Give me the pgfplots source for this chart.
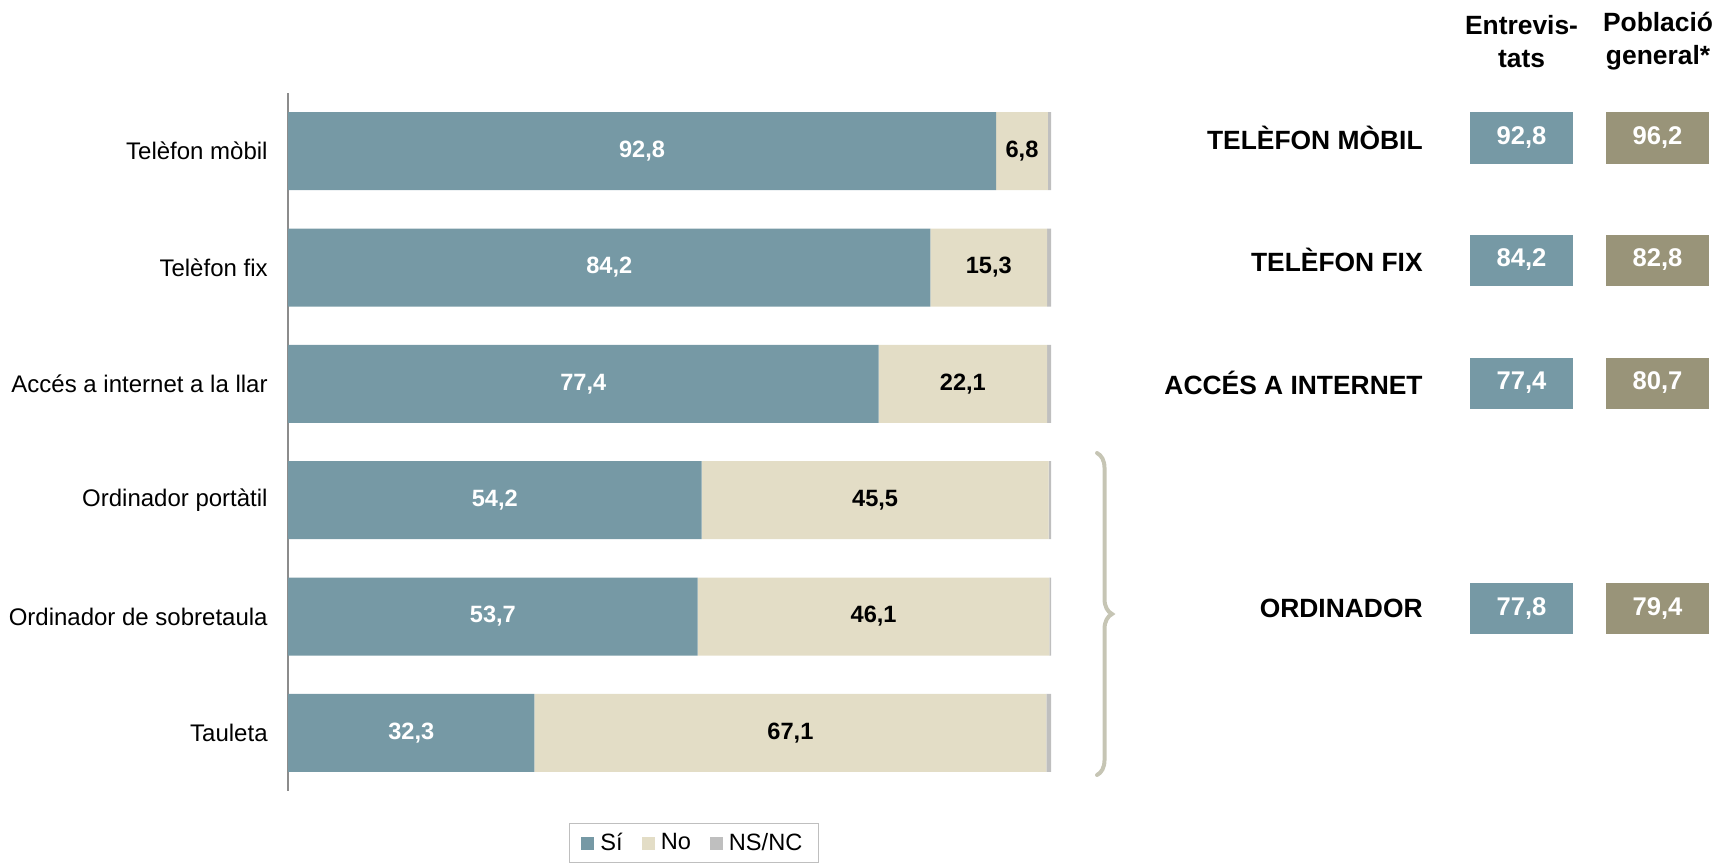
\documentclass[border=0pt]{standalone}
\usepackage{pgfplots}
\pgfplotsset{compat=1.18}
\usepackage{pgfplotstable}
\usepackage{fontspec}
\setmainfont{Liberation Sans}
\usetikzlibrary{decorations.pathreplacing}
\definecolor{cSi}{HTML}{7699A5}
\definecolor{cNo}{HTML}{E3DDC6}
\definecolor{cNS}{HTML}{BFBFBF}
\definecolor{cPob}{HTML}{999479}
\definecolor{cBrace}{HTML}{C6C5B4}
\definecolor{cAxis}{HTML}{8C8C8C}

\pgfplotstableread{
cat si no ns
0 92.8 6.8 0.4
1 84.2 15.3 0.5
2 77.4 22.1 0.5
3 54.2 45.5 0.3
4 53.7 46.1 0.2
5 32.3 67.1 0.6
}\bars

\pgfplotstableread{
y ent pob
138 92.8 96.2
260 84.2 82.8
383 77.4 80.7
608.5 77.8 79.4
}\comp

\newcommand{\fsA}{\fontsize{12}{14}\selectfont}
\newcommand{\fsL}{\fontsize{11.8}{14}\selectfont}
\newcommand{\fsB}{\bfseries\fontsize{13.2}{16.5}\selectfont}
\newcommand{\fsC}{\bfseries\fontsize{12.8}{15}\selectfont}

\pgfplotsset{
  /pgf/number format/assume math mode=true,
  numfmt/.style={nodes near coords={\pgfmathprintnumber[fixed,fixed zerofill,precision=1,use comma]{\pgfplotspointmeta}}},
  sq legend/.style={legend image code/.code={\fill[##1] (0pt,-3.25pt) rectangle (6.5pt,3.25pt); \path (7.5pt,0pt);}},
}

\begin{document}
\begin{tikzpicture}
\useasboundingbox (0,0) rectangle (858.5pt,431pt);

% main stacked bars
\begin{axis}[
  at={(144pt,35.5pt)}, anchor=south west, scale only axis,
  width=381.5pt, height=349pt,
  xbar stacked, bar width=39pt,
  xmin=0, xmax=100, ymin=-0.5, ymax=5.5, y dir=reverse,
  axis x line=none, axis y line*=left,
  axis line style={cAxis, line width=0.8pt, -},
  ytick={0,...,5},
  yticklabels={Telèfon mòbil, Telèfon fix, Accés a internet a la llar, Ordinador portàtil, Ordinador de sobretaula, Tauleta},
  major tick length=0pt,
  yticklabel style={font=\fsA, inner sep=0pt, xshift=-10pt},
  legend style={at={(0.532,-0.0745)}, anchor=center, legend columns=3,
    draw=cNS, line width=0.6pt, font=\fsL, inner xsep=6pt, inner ysep=2.5pt,
    /tikz/every even column/.append style={column sep=7.5pt}},
  legend cell align=left,
  clip=false,
]
\addplot[fill=cSi, draw=none, sq legend] table[x=si, y=cat]{\bars};
\addplot[fill=cNo, draw=none, sq legend] table[x=no, y=cat]{\bars};
\addplot[fill=cNS, draw=none, sq legend] table[x=ns, y=cat]{\bars};
\legend{Sí, No, NS/NC}
\end{axis}

% value labels inside bars
\begin{axis}[
  at={(144pt,35.5pt)}, anchor=south west, scale only axis,
  width=381.5pt, height=349pt,
  xmin=0, xmax=100, ymin=-0.5, ymax=5.5, y dir=reverse,
  hide axis, clip=false,
]
\addplot[draw=none, mark=none, numfmt, point meta=\thisrow{si},
  nodes near coords style={anchor=center, text=white, font=\fsL\bfseries}]
  table[x expr=\thisrow{si}/2, y=cat]{\bars};
\addplot[draw=none, mark=none, numfmt, point meta=\thisrow{no},
  nodes near coords style={anchor=center, text=black, font=\fsL\bfseries}]
  table[x expr=\thisrow{si}+\thisrow{no}/2, y=cat]{\bars};
\end{axis}

% right-hand comparison panel
\begin{axis}[
  at={(0pt,0pt)}, anchor=south west, scale only axis,
  width=858.5pt, height=431pt,
  xmin=0, xmax=1717, ymin=0, ymax=862, y dir=reverse,
  hide axis, clip=false,
]
\addplot[draw=none, mark=none, numfmt, point meta=\thisrow{ent},
  nodes near coords style={anchor=center, fill=cSi, text=white, inner sep=0pt,
    minimum width=51.5pt, minimum height=25.5pt, font=\fsC}]
  table[x expr=1521.5, y=y]{\comp};
\addplot[draw=none, mark=none, numfmt, point meta=\thisrow{pob},
  nodes near coords style={anchor=center, fill=cPob, text=white, inner sep=0pt,
    minimum width=51.5pt, minimum height=25.5pt, font=\fsC}]
  table[x expr=1657.5, y=y]{\comp};

\node[anchor=east, font=\fsB, inner sep=0pt] at (axis cs:1423,138) {TELÈFON MÒBIL};
\node[anchor=east, font=\fsB, inner sep=0pt] at (axis cs:1423,260) {TELÈFON FIX};
\node[anchor=east, font=\fsB, inner sep=0pt] at (axis cs:1423,383) {ACCÉS A INTERNET};
\node[anchor=east, font=\fsB, inner sep=0pt] at (axis cs:1423,608.5) {ORDINADOR};

\node[align=center, font=\fsB, inner sep=0pt] at (axis cs:1521.5,41.5) {Entrevis-\\tats};
\node[align=center, font=\fsB, inner sep=0pt] at (axis cs:1658,41.5) {Població\\general*};

\draw[cBrace, line width=2pt, line cap=round, decorate,
  decoration={brace, amplitude=7.5pt}] (axis cs:1097,453) -- (axis cs:1097,775);
\end{axis}
\end{tikzpicture}
\end{document}
